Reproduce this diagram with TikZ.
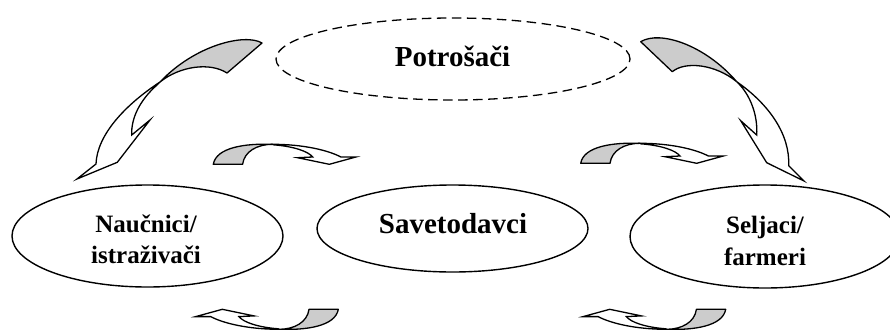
\documentclass[tikz,border=0pt]{standalone}
\usepackage{fontspec}
\setmainfont{Liberation Serif}
\usetikzlibrary{shapes.geometric}
\begin{document}
\begin{tikzpicture}[x=1pt,y=-1pt,
  ell/.style={draw, ellipse, line width=1.4pt, inner sep=0pt},
  dashell/.style={ell, line width=1.3pt, dash pattern=on 9.5pt off 5.5pt},
  lab/.style={font=\bfseries\fontsize{25}{30}\selectfont, anchor=base, inner sep=0pt},
  labbig/.style={lab, font=\bfseries\fontsize{29}{34}\selectfont},
  grayband/.style={draw, fill=black!20, line width=1.3pt, line join=round},
  whiteband/.style={draw, fill=white, line width=1.3pt, line join=miter},
  smallarrow/.pic={
    \path[grayband] (0,0) .. controls (3,-17) and (32,-21) .. (59.3,-20)
      .. controls (44,-20) and (31,-13) .. (29.3,0) -- cycle;
    \path[whiteband] (59.3,-20) .. controls (90,-20) and (115,-14) .. (127.6,-7.3)
      -- (142.6,-7.3) -- (116,0) -- (84.3,-6.6) -- (99.3,-7.3)
      .. controls (95,-13) and (80,-18) .. (60,-19.5) -- cycle;
  }
]
\useasboundingbox (0,0) rectangle (890,329);
\clip (0,0) rectangle (890,329);

% ellipses
\node[dashell, minimum width=354pt, minimum height=82pt] (potr) at (453,59) {};
\node[ell, minimum width=271pt, minimum height=102pt] (nauc) at (147.5,236) {};
\node[ell, minimum width=271pt, minimum height=87pt] (save) at (452.5,228.5) {};
\node[ell, minimum width=270pt, minimum height=103pt] (selj) at (765,236.5) {};

% labels
\node[labbig] (potrt) at (452.5,66.7) {Potrošači};
\node[labbig] (savet) at (453,233) {Savetodavci};
\node[lab] (nauc1) at (146,232) {Naučnici/};
\node[lab] (nauc2) at (146,263) {istraživači};
\node[lab] (selj1) at (765,233) {Seljaci/};
\node[lab] (selj2) at (765,265) {farmeri};

% big left arrow
\path[grayband] (262,43) .. controls (245,33) and (195,45) .. (160,82)
  .. controls (180,66) and (210,62) .. (227,73) -- cycle;
\path[whiteband] (160,82) .. controls (125,105) and (97,135) .. (96,164)
  -- (77,179) -- (117.3,162.3) -- (150,120) -- (131.7,135)
  .. controls (131,118) and (140,100) .. (157,85) -- cycle;

% big right arrow
\path[grayband] (640.7,41.7) .. controls (660,30) and (705,45) .. (736.7,81.7)
  .. controls (715,64) and (685,61) .. (672.3,71.7) -- cycle;
\path[whiteband] (736.7,81.7) .. controls (770,105) and (790,135) .. (788.7,165.7)
  -- (804,181) -- (766.7,162.7) -- (740.7,120.7) -- (756.7,135)
  .. controls (758,115) and (750,95) .. (738.5,83.5) -- cycle;

% small arrows
\pic at (213.3,164.3) {smallarrow};
\pic at (580.7,163.3) {smallarrow};
\pic[rotate=180] at (338.3,309.3) {smallarrow};
\pic[rotate=180] at (725.7,309.3) {smallarrow};
\end{tikzpicture}
\end{document}
